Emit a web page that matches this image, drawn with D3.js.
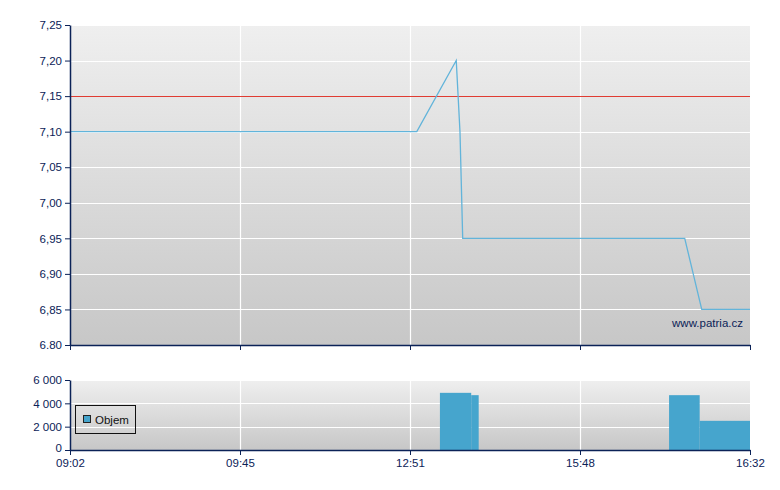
<!DOCTYPE html>
<html><head><meta charset="utf-8">
<script src="https://cdn.jsdelivr.net/npm/d3@7"></script>
<style>
body{margin:0;background:#fff;}
text{font-family:"Liberation Sans",Arial,sans-serif;}
</style></head>
<body><svg id="c" width="780" height="490"></svg>
<script>
// x positions are on an index scale 0..100 (ticks equally spaced)
const xTickPos = [0, 25, 50, 75, 100];
const xTickLabels = ["09:02", "09:45", "12:51", "15:48", "16:32"];
const priceX = [0, 51.0, 56.8, 57.35, 57.75, 90.4, 92.9, 100];
const priceY = [7.10, 7.10, 7.20, 7.10, 6.95, 6.95, 6.85, 6.85];
const refLevel = 7.15;
const priceTicks = [6.80, 6.85, 6.90, 6.95, 7.00, 7.05, 7.10, 7.15, 7.20, 7.25];
const priceTickLabels = ["6.80", "6,85", "6,90", "6,95", "7,00", "7,05", "7,10", "7,15", "7,20", "7,25"];
const volStart = [54.4, 59.0, 88.1, 92.6];
const volEnd = [59.0, 60.1, 92.6, 100];
const volValue = [4900, 4700, 4700, 2500];
const volTicks = [0, 2000, 4000, 6000];
const volTickLabels = ["0", "2 000", "4 000", "6 000"];

const svg = d3.select("#c");
const navy = "#0b2257";
const L = 70, R = 750;
const x = d3.scaleLinear().domain([0, 100]).range([L, R]);
const yP = d3.scaleLinear().domain([6.80, 7.25]).range([345, 25]);
const yV = d3.scaleLinear().domain([0, 6000]).range([450, 380]);

const defs = svg.append("defs");
function grad(id, c1, c2) {
  const g = defs.append("linearGradient").attr("id", id).attr("x1", 0).attr("y1", 0).attr("x2", 0).attr("y2", 1);
  g.append("stop").attr("offset", "0%").attr("stop-color", c1);
  g.append("stop").attr("offset", "100%").attr("stop-color", c2);
}
grad("g1", "#efefef", "#c7c7c7");
grad("g2", "#efefef", "#c7c7c7");

// panels
svg.append("rect").attr("x", L).attr("y", yP(7.25)).attr("width", R - L).attr("height", yP(6.80) - yP(7.25)).attr("fill", "url(#g1)");
svg.append("rect").attr("x", L).attr("y", yV(6000)).attr("width", R - L).attr("height", yV(0) - yV(6000)).attr("fill", "url(#g2)");

// grids
const gP = svg.append("g");
gP.selectAll("line.h").data(priceTicks.slice(1)).join("line")
  .attr("x1", L).attr("x2", R).attr("y1", d => Math.round(yP(d)) + 0.5).attr("y2", d => Math.round(yP(d)) + 0.5)
  .attr("stroke", "#fff").attr("stroke-width", 1.2);
gP.selectAll("line.v").data(xTickPos.slice(1, 4)).join("line")
  .attr("x1", d => Math.round(x(d)) + 0.5).attr("x2", d => Math.round(x(d)) + 0.5).attr("y1", 25).attr("y2", 345)
  .attr("stroke", "#fff").attr("stroke-width", 1.2);
const gV = svg.append("g");
gV.selectAll("line.h").data(volTicks.slice(1)).join("line")
  .attr("x1", L).attr("x2", R).attr("y1", d => Math.round(yV(d)) + 0.5).attr("y2", d => Math.round(yV(d)) + 0.5)
  .attr("stroke", "#fff").attr("stroke-width", 1.2);
gV.selectAll("line.v").data(xTickPos.slice(1, 4)).join("line")
  .attr("x1", d => Math.round(x(d)) + 0.5).attr("x2", d => Math.round(x(d)) + 0.5).attr("y1", 380).attr("y2", 450)
  .attr("stroke", "#fff").attr("stroke-width", 1.2);

// reference line
svg.append("line").attr("x1", L).attr("x2", R).attr("y1", Math.round(yP(refLevel)) + 0.5).attr("y2", Math.round(yP(refLevel)) + 0.5)
  .attr("stroke", "#e03c32").attr("stroke-width", 1);

// price line
const line = d3.line().x((d, i) => x(priceX[i])).y(d => yP(d));
svg.append("path").datum(priceY).attr("d", line).attr("fill", "none")
  .attr("stroke", "#62b4da").attr("stroke-width", 1.3);

// watermark
svg.append("text").attr("x", 743).attr("y", 327).attr("text-anchor", "end").attr("font-size", 11.5)
  .attr("fill", navy).text("www.patria.cz");

// volume bars
svg.selectAll("rect.bar").data(volValue).join("rect")
  .attr("x", (d, i) => x(volStart[i])).attr("width", (d, i) => x(volEnd[i]) - x(volStart[i]))
  .attr("y", d => yV(d)).attr("height", d => yV(0) - yV(d)).attr("fill", "#46a5cd");

// axes
function styleAxis(g) {
  g.selectAll("path.domain").attr("stroke", navy).attr("stroke-width", 1.5);
  g.selectAll(".tick line").attr("stroke", navy);
  g.selectAll("text").attr("fill", navy).attr("font-size", 11.5).attr("font-family", "'Liberation Sans',Arial,sans-serif");
}
const ayP = svg.append("g").attr("transform", `translate(${L},0)`)
  .call(d3.axisLeft(yP).tickValues(priceTicks).tickFormat((d, i) => priceTickLabels[i]).tickSize(5).tickSizeOuter(0).tickPadding(3));
styleAxis(ayP);
const axP = svg.append("g").attr("transform", `translate(0,345)`)
  .call(d3.axisBottom(x).tickValues(xTickPos).tickFormat("").tickSize(5).tickSizeOuter(0));
styleAxis(axP);
const ayV = svg.append("g").attr("transform", `translate(${L},0)`)
  .call(d3.axisLeft(yV).tickValues(volTicks).tickFormat((d, i) => volTickLabels[i]).tickSize(5).tickSizeOuter(0).tickPadding(3));
styleAxis(ayV);
ayV.selectAll(".tick text").filter(d => d === 0).attr("dy", "0.15em");
const axV = svg.append("g").attr("transform", `translate(0,450)`)
  .call(d3.axisBottom(x).tickValues(xTickPos).tickFormat((d, i) => xTickLabels[i]).tickSize(5).tickSizeOuter(0).tickPadding(4));
styleAxis(axV);

// legend
const lg = svg.append("g");
lg.append("rect").attr("x", 75.5).attr("y", 405.5).attr("width", 60).attr("height", 28).attr("fill", "none").attr("stroke", "#111");
lg.append("rect").attr("x", 83.5).attr("y", 415.5).attr("width", 7).attr("height", 7).attr("fill", "#46a5cd").attr("stroke", "#222");
lg.append("text").attr("x", 95).attr("y", 424).attr("font-size", 11.5).attr("fill", "#111").text("Objem");
</script></body></html>
